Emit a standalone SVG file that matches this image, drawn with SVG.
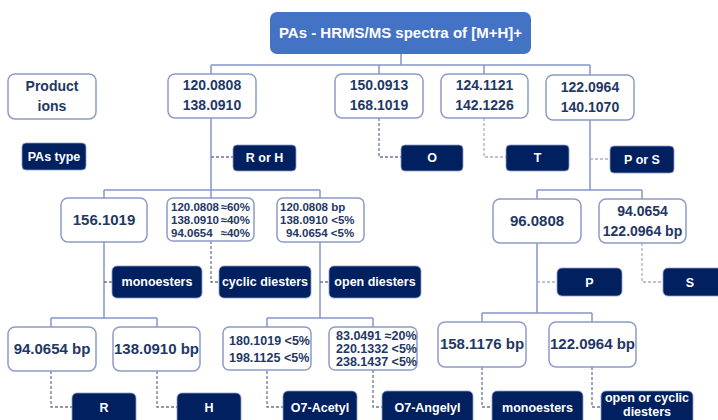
<svg xmlns="http://www.w3.org/2000/svg" width="718" height="420" viewBox="0 0 718 420">
<style>
.box{fill:#fff;stroke:#8D9CC6;stroke-width:1.5}
.lab{fill:#002060;stroke:#8D9CC6;stroke-width:0.8}
.t{font-family:"Liberation Sans",Arial,sans-serif;font-weight:bold;fill:#1F3864}
.w{font-family:"Liberation Sans",Arial,sans-serif;font-weight:bold;fill:#fff;font-size:12.5px;text-anchor:middle}
.c{text-anchor:middle}
.s{fill:none;stroke:#8497C9;stroke-width:1.5}
.d{fill:none;stroke:#6B7699;stroke-width:1.3;stroke-dasharray:3 2}
.dl{fill:none;stroke:#A8B0C8;stroke-width:1.3;stroke-dasharray:3 2}
</style>
<rect width="718" height="420" fill="#fff"/>
<g id="connectors">
<path class="s" d="M401 54V65M211 65H590M211 65V74M379 65V74M484 65V74M590 65V75"/>
<path class="s" d="M211 118V190M104 190H320M104 190V198M211 190V198M320 190V198"/>
<path class="s" d="M590 120V190M537 190H642M537 190V199M642 190V199"/>
<path class="s" d="M104 242V318M51 318H157M51 318V327M157 318V327"/>
<path class="s" d="M320 242V318M267 318H373M267 318V327M373 318V327"/>
<path class="s" d="M537 243V313M482 313H592M482 313V322M592 313V322"/>
<path class="d" d="M211 157H233"/>
<path class="d" d="M379 118V157H401"/>
<path class="dl" d="M484 118V157H506"/>
<path class="dl" d="M590 159H610"/>
<path class="d" d="M104 282H112"/>
<path class="d" d="M211 241V282H219"/>
<path class="d" d="M320 282H329"/>
<path class="dl" d="M537 282H557"/>
<path class="dl" d="M642 243V282H663"/>
<path class="d" d="M51 371V407H72"/>
<path class="d" d="M157 371V407H177"/>
<path class="d" d="M267 371V407H283"/>
<path class="d" d="M373 370V407H382"/>
<path class="d" d="M482 367V407H492"/>
<path class="d" d="M592 367V407H601"/>
</g>
<g id="title"><rect x="270" y="12" width="261" height="42" rx="7" fill="#4472C4"/><text x="400.5" y="38" class="w" style="font-size:15px">PAs - HRMS/MS spectra of [M+H]+</text></g>
<g id="product-ions"><rect class="box" x="8" y="74" width="88" height="45" rx="7"/><text class="t c" x="52" y="91" font-size="14">Product</text><text class="t c" x="52" y="111" font-size="14">ions</text></g>
<g id="pas-type"><rect class="lab" x="22" y="143" width="64" height="27" rx="4"/><text class="w" x="54" y="161">PAs type</text></g>
<g id="n1"><rect class="box" x="168" y="74" width="88" height="44" rx="7"/><text class="t c" x="212" y="90" font-size="14">120.0808</text><text class="t c" x="212" y="110" font-size="14">138.0910</text></g>
<g id="n2"><rect class="box" x="335" y="74" width="88" height="44" rx="7"/><text class="t c" x="379" y="90" font-size="14">150.0913</text><text class="t c" x="379" y="110" font-size="14">168.1019</text></g>
<g id="n3"><rect class="box" x="441" y="74" width="87" height="44" rx="7"/><text class="t c" x="484.5" y="90" font-size="14">124.1121</text><text class="t c" x="484.5" y="110" font-size="14">142.1226</text></g>
<g id="n4"><rect class="box" x="546" y="75" width="88" height="45" rx="7"/><text class="t c" x="590" y="92" font-size="14">122.0964</text><text class="t c" x="590" y="112" font-size="14">140.1070</text></g>
<g id="l-rorh"><rect class="lab" x="233" y="145" width="63" height="26" rx="4"/><text class="w" x="264.5" y="162">R or H</text></g>
<g id="l-o"><rect class="lab" x="401" y="145" width="62" height="26" rx="4"/><text class="w" x="432" y="162">O</text></g>
<g id="l-t"><rect class="lab" x="506" y="145" width="63" height="26" rx="4"/><text class="w" x="537.5" y="162">T</text></g>
<g id="l-pors"><rect class="lab" x="610" y="146" width="64" height="27" rx="4"/><text class="w" x="642" y="164">P or S</text></g>
<g id="n5"><rect class="box" x="61" y="198" width="86" height="44" rx="7"/><text class="t c" x="104" y="225" font-size="15">156.1019</text></g>
<g id="n6"><rect class="box" x="167" y="198" width="87" height="43" rx="6"/><text class="t" font-size="11.5" x="171" y="211">120.0808</text><text class="t" font-size="11.5" x="250" y="211" text-anchor="end">≈60%</text><text class="t" font-size="11.5" x="171" y="224">138.0910</text><text class="t" font-size="11.5" x="250" y="224" text-anchor="end">≈40%</text><text class="t" font-size="11.5" x="171" y="237">94.0654</text><text class="t" font-size="11.5" x="250" y="237" text-anchor="end">≈40%</text></g>
<g id="n7"><rect class="box" x="277" y="198" width="87" height="44" rx="6"/><text class="t" font-size="11.5" x="280" y="211">120.0808 bp</text><text class="t" font-size="11.5" x="280" y="224">138.0910 &lt;5%</text><text class="t" font-size="11.5" x="286" y="237">94.0654 &lt;5%</text></g>
<g id="n8"><rect class="box" x="493" y="199" width="88" height="44" rx="7"/><text class="t c" x="537" y="226" font-size="15">96.0808</text></g>
<g id="n9"><rect class="box" x="599" y="199" width="87" height="44" rx="7"/><text class="t c" x="642.5" y="216" font-size="14">94.0654</text><text class="t c" x="642.5" y="236" font-size="14">122.0964 bp</text></g>
<g id="l-mono1"><rect class="lab" x="112" y="266" width="90" height="32" rx="5"/><text class="w" x="157" y="286">monoesters</text></g>
<g id="l-cyc"><rect class="lab" x="219" y="266" width="92" height="32" rx="5"/><text class="w" x="265" y="286">cyclic diesters</text></g>
<g id="l-open"><rect class="lab" x="329" y="266" width="92" height="32" rx="5"/><text class="w" x="375" y="286">open diesters</text></g>
<g id="l-p"><rect class="lab" x="557" y="268" width="65" height="28" rx="5"/><text class="w" x="589.5" y="287">P</text></g>
<g id="l-s"><rect class="lab" x="663" y="268" width="70" height="28" rx="5"/><text class="w" x="690" y="287">S</text></g>
<g id="n10"><rect class="box" x="8" y="327" width="88" height="44" rx="7"/><text class="t c" x="52" y="354" font-size="15">94.0654 bp</text></g>
<g id="n11"><rect class="box" x="113" y="327" width="87" height="44" rx="7"/><text class="t c" x="156.5" y="354" font-size="15">138.0910 bp</text></g>
<g id="n12"><rect class="box" x="223" y="327" width="88" height="43" rx="6"/><text class="t" font-size="12.5" x="229" y="345">180.1019 &lt;5%</text><text class="t" font-size="12.5" x="229" y="362">198.1125 &lt;5%</text></g>
<g id="n13"><rect class="box" x="329" y="327" width="88" height="43" rx="6"/><text class="t" font-size="12.5" x="336" y="340">83.0491 ≈20%</text><text class="t" font-size="12.5" x="336" y="353">220.1332 &lt;5%</text><text class="t" font-size="12.5" x="336" y="366">238.1437 &lt;5%</text></g>
<g id="n14"><rect class="box" x="438" y="322" width="88" height="45" rx="7"/><text class="t c" x="482" y="349" font-size="15">158.1176 bp</text></g>
<g id="n15"><rect class="box" x="549" y="322" width="87" height="45" rx="7"/><text class="t c" x="592.5" y="349" font-size="15">122.0964 bp</text></g>
<g id="l-r"><rect class="lab" x="72" y="393" width="64" height="32" rx="5"/><text class="w" x="104" y="412">R</text></g>
<g id="l-h"><rect class="lab" x="177" y="393" width="64" height="32" rx="5"/><text class="w" x="209" y="412">H</text></g>
<g id="l-acetyl"><rect class="lab" x="283" y="391" width="74" height="34" rx="5"/><text class="w" x="320" y="412">O7-Acetyl</text></g>
<g id="l-angelyl"><rect class="lab" x="382" y="391" width="91" height="34" rx="5"/><text class="w" x="427.5" y="412">O7-Angelyl</text></g>
<g id="l-mono2"><rect class="lab" x="492" y="391" width="91" height="34" rx="5"/><text class="w" x="537.5" y="412">monoesters</text></g>
<g id="l-ocd"><rect class="lab" x="601" y="391" width="92" height="34" rx="5"/><text class="w" x="647" y="402">open or cyclic</text><text class="w" x="647" y="416">diesters</text></g>
</svg>
